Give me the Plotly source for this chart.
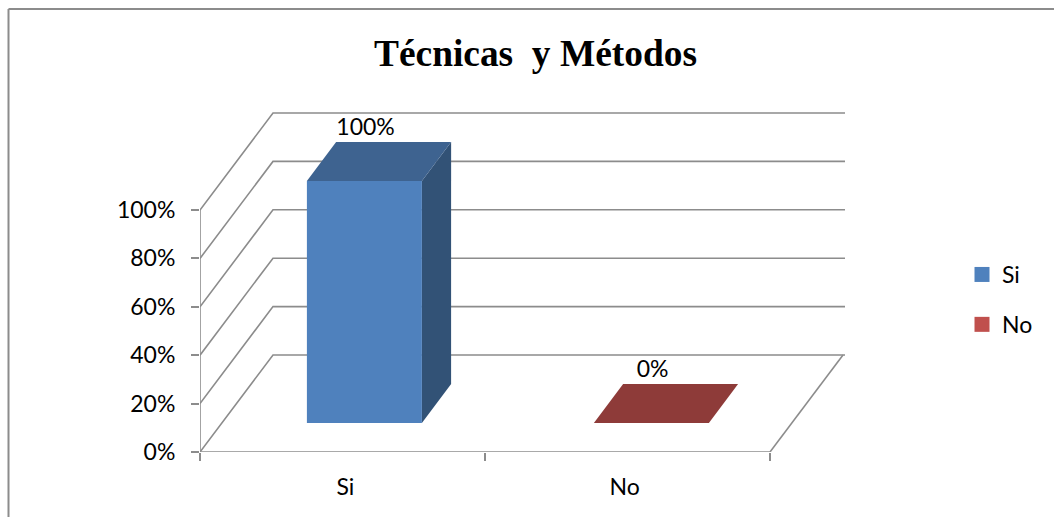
import plotly.graph_objects as go

title = "Técnicas\u00a0\u00a0y Métodos"
categories = ["Si", "No"]
values = [100, 0]
labels = ["100%", "0%"]
y_ticks = [0, 20, 40, 60, 80, 100]
y_labels = ["0%", "20%", "40%", "60%", "80%", "100%"]

front_colors = ["#4F81BD", "#C0504D"]
top_colors = ["#3E6390", "#8E3B39"]
side_colors = ["#325276", "#6F2F2D"]
GRID = "#8C8C8C"
TEXT = "#000000"
FONT = "Lato"
FS = 23

# Oblique projection of the chart's depth, in axis units
W, H = 1054, 517
L, R, T, B = 200, 845, 112, 452
X_MAX = (R - L) / 285
Y_MAX = (B - T) / 2.42
DX = 73 / 285
DY = 97 / 2.42
BAR_W = 115 / 285
D0, D1 = 0.30, 0.70
CENTERS = [0.5, 1.507]
LABEL_TICKS = [0.51, 1.49]


def proj(x, y, d):
    return x + DX * d, y + DY * d


def poly(pts, color):
    xs, ys = zip(*pts)
    return go.Scatter(x=list(xs) + [xs[0]], y=list(ys) + [ys[0]], mode="lines",
                      fill="toself", fillcolor=color, line=dict(width=0),
                      showlegend=False, hoverinfo="skip")


fig = go.Figure()
line = dict(color=GRID, width=1.6)


def seg(xs, ys):
    fig.add_trace(go.Scatter(x=xs, y=ys, mode="lines", line=line, showlegend=False,
                             hoverinfo="skip", cliponaxis=False))


# Walls and floor
for v in y_ticks:
    seg([0, DX, X_MAX], [v, v + DY, v + DY])
seg([0, 0], [0, y_ticks[-1]])
seg([0, len(categories)], [0, 0])
seg([len(categories), len(categories) + DX], [0, DY])

# Bars
for i, (cat, v) in enumerate(zip(categories, values)):
    c = CENTERS[i]
    a, b = c - BAR_W / 2, c + BAR_W / 2
    p = proj
    fig.add_trace(poly([p(b, 0, D0), p(b, 0, D1), p(b, v, D1), p(b, v, D0)], side_colors[i]))
    fig.add_trace(poly([p(a, v, D0), p(b, v, D0), p(b, v, D1), p(a, v, D1)], top_colors[i]))
    if v > 0:
        fig.add_trace(poly([p(a, 0, D0), p(b, 0, D0), p(b, v, D0), p(a, v, D0)], front_colors[i]))
    lx = p(c, v, D0)[0] + 0.004
    ly = p(c, v, D1)[1] + 0.6
    fig.add_trace(go.Scatter(x=[lx], y=[ly], mode="text", text=[labels[i]], textposition="top center",
                             textfont=dict(family=FONT, size=FS, color=TEXT), showlegend=False,
                             hoverinfo="skip", cliponaxis=False))

# Legend
for i, cat in enumerate(categories):
    fig.add_trace(go.Scatter(x=[None], y=[None], mode="markers", name=cat, legendgroup=cat,
                             marker=dict(symbol="square", size=15, color=front_colors[i])))

frame = [
    dict(type="line", xref="paper", yref="paper",
         x0=(8.5 - L) / (R - L), x1=(8.5 - L) / (R - L),
         y0=(B - 9) / (B - T), y1=(B - 520) / (B - T), line=dict(color="#8C8C8C", width=2)),
    dict(type="line", xref="paper", yref="paper",
         x0=(8.5 - L) / (R - L), x1=(1060 - L) / (R - L),
         y0=(B - 9) / (B - T), y1=(B - 9) / (B - T), line=dict(color="#8C8C8C", width=2)),
]

fig.update_layout(
    width=W, height=H, autosize=False,
    margin=dict(l=L, r=W - R, t=T, b=H - B, pad=0),
    paper_bgcolor="white", plot_bgcolor="white",
    title=dict(text=title, x=535.5 / W, xref="container", xanchor="center",
               y=1 - 53 / H, yref="container", yanchor="middle",
               font=dict(family="Liberation Serif", size=37.4, color=TEXT, weight="bold")),
    font=dict(family=FONT, size=FS, color=TEXT),
    hovermode=False,
    shapes=frame,
    legend=dict(x=(962 - L) / (R - L), xanchor="left", y=(B - 253) / (B - T), yanchor="top",
                tracegroupgap=17, itemsizing="trace", font=dict(family=FONT, size=FS, color=TEXT),
                bgcolor="rgba(0,0,0,0)"),
    xaxis=dict(range=[0, X_MAX], showgrid=False, zeroline=False, showline=False,
               tickmode="array", tickvals=LABEL_TICKS, ticktext=categories, ticks="",
               ticklabelstandoff=19, tickfont=dict(family=FONT, size=FS, color=TEXT),
               minor=dict(tickmode="array", tickvals=[0, 1, 2], ticks="outside", ticklen=8,
                          tickwidth=1.6, tickcolor=GRID, showgrid=False),
               fixedrange=True),
    yaxis=dict(range=[0, Y_MAX], showgrid=False, zeroline=False, showline=False,
               tickmode="array", tickvals=y_ticks, ticktext=y_labels, ticks="outside",
               ticklen=8, tickwidth=1.6, tickcolor=GRID, ticklabelstandoff=11,
               tickfont=dict(family=FONT, size=FS, color=TEXT), fixedrange=True),
)

fig.write_html("out.html", config={"displayModeBar": False},
               post_script="document.body.style.margin='0';document.documentElement.style.overflow='hidden';")
